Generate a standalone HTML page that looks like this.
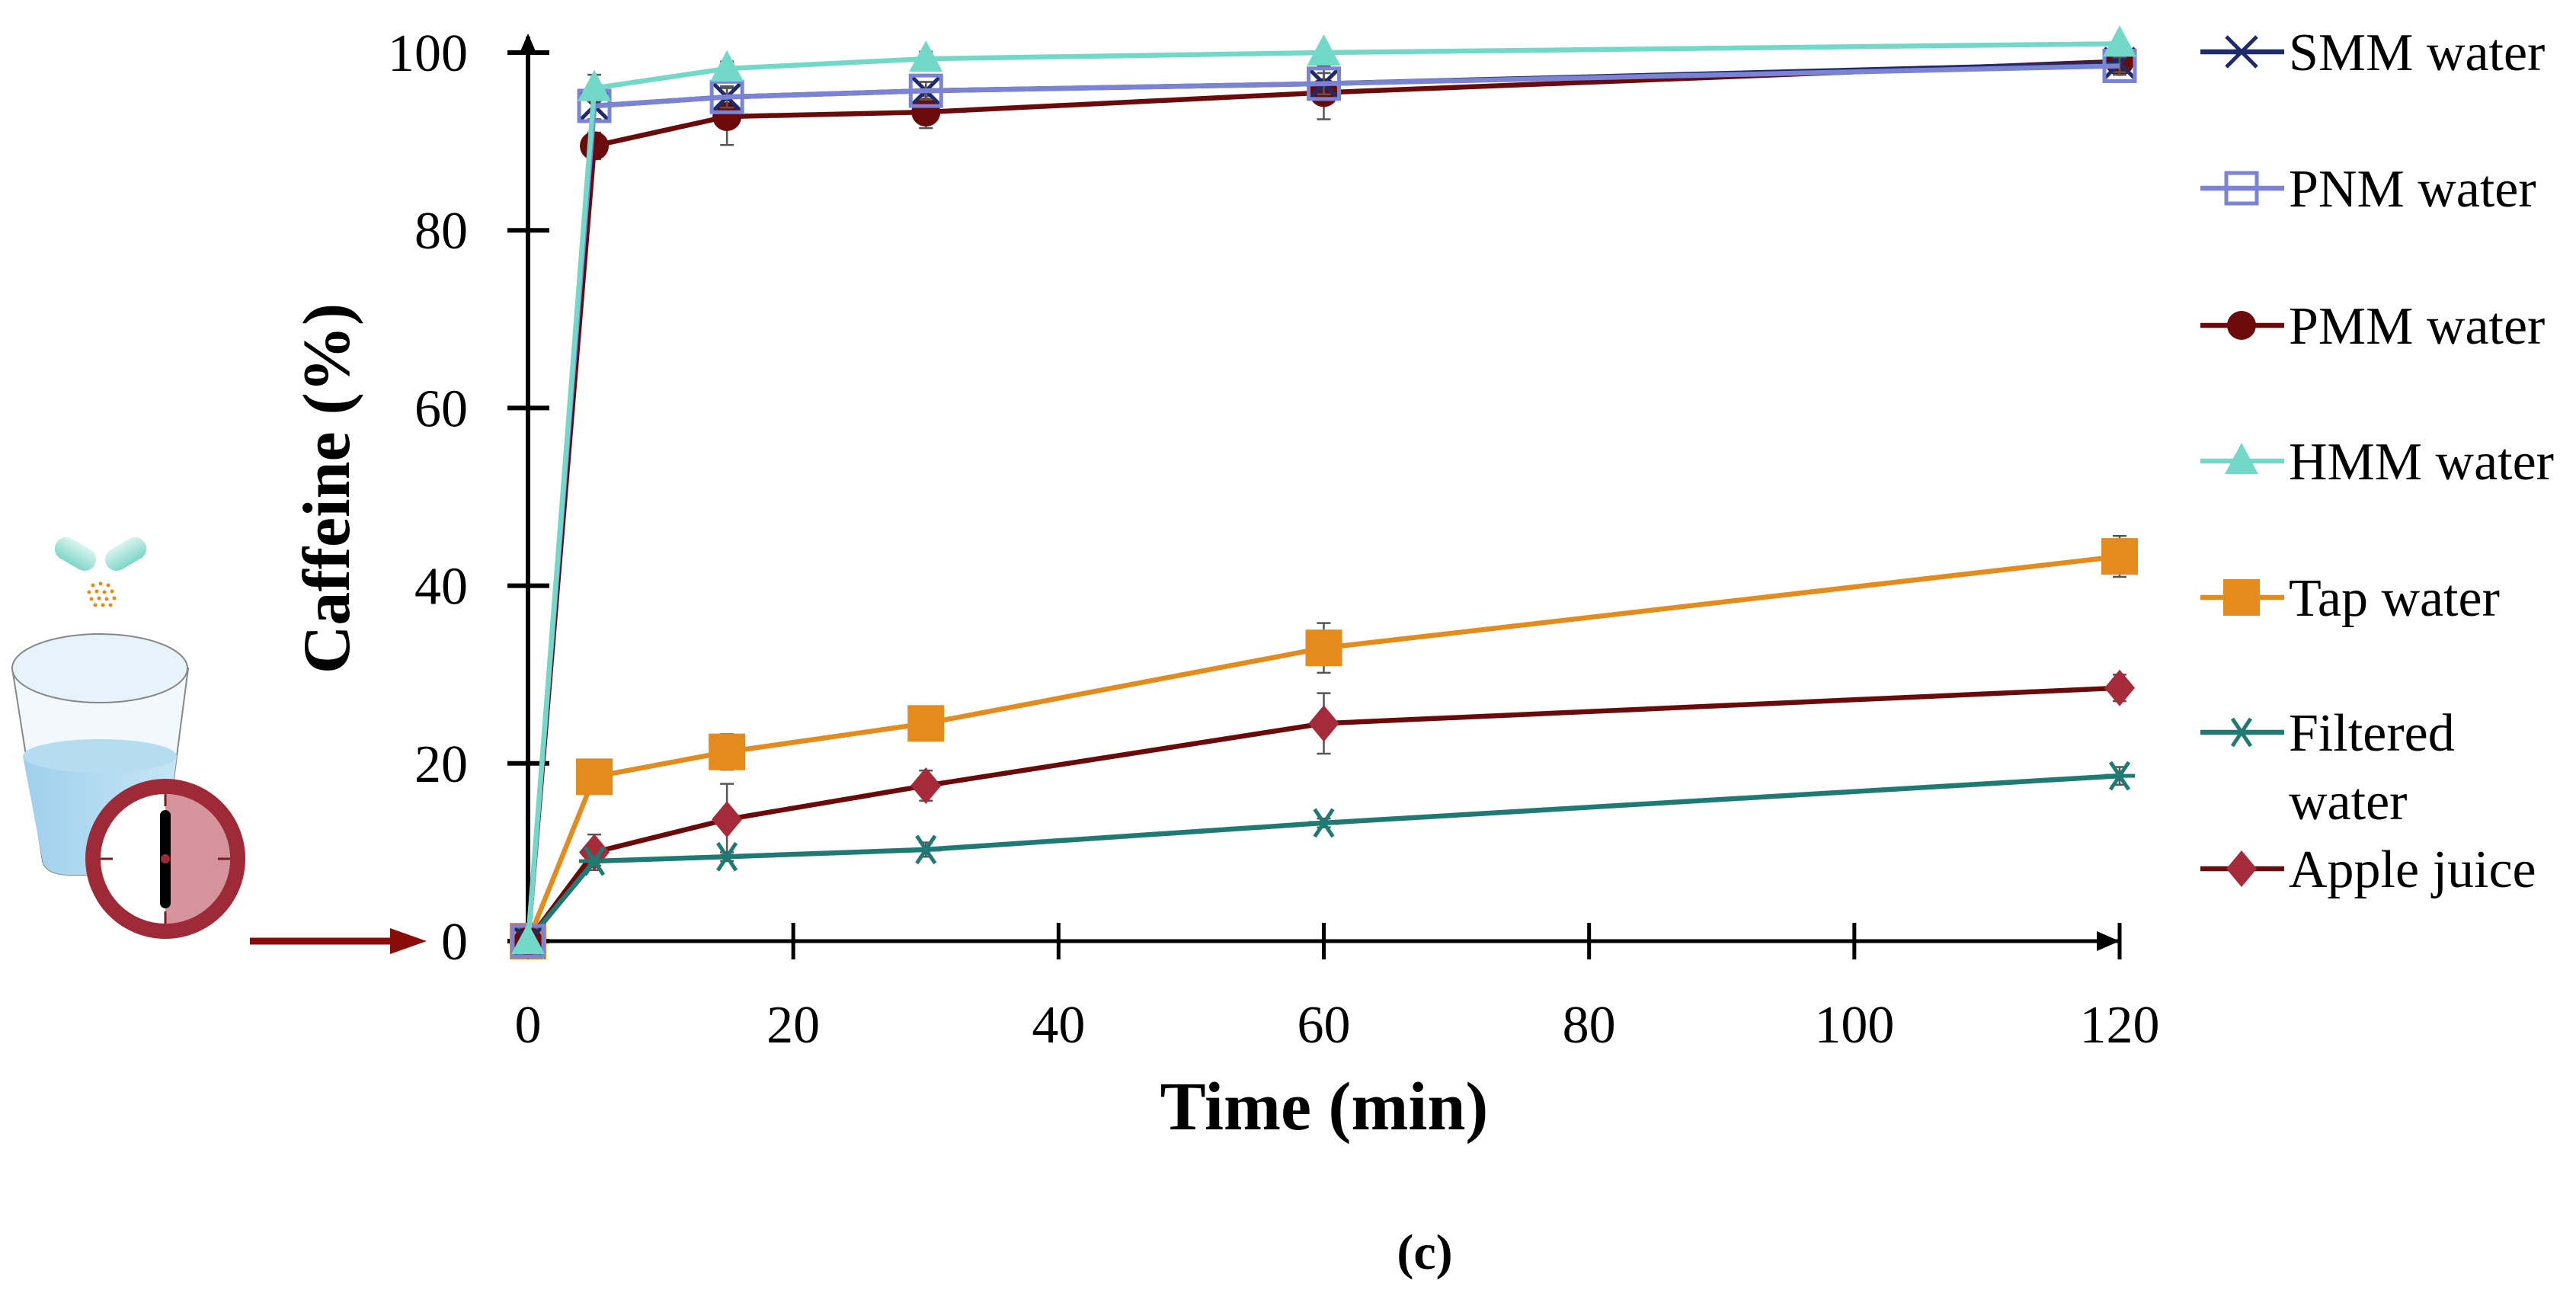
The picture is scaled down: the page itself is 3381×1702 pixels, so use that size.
<!DOCTYPE html>
<html><head><meta charset="utf-8">
<style>
html,body{margin:0;padding:0;background:#fff;}
svg{display:block;}
text{font-family:"Liberation Serif",serif;}
</style></head>
<body>
<svg width="3381" height="1702" viewBox="0 0 3381 1702" id="chart">
<defs>
<linearGradient id="water" x1="0" x2="1"><stop offset="0" stop-color="#9fd0ec"/><stop offset="1" stop-color="#c6e5f5"/></linearGradient>
<linearGradient id="cap" x1="0" x2="0" y1="0" y2="1"><stop offset="0" stop-color="#d8f5ef"/><stop offset="1" stop-color="#7fd6c8"/></linearGradient>
</defs>
<g>
  <g>
    <rect x="70" y="712" width="58" height="30" rx="15" fill="url(#cap)" transform="rotate(30 99 727)"/>
    <rect x="136" y="712" width="58" height="30" rx="15" fill="url(#cap)" transform="rotate(-30 165 727)"/>
    <g fill="#e38b1c">
      <circle cx="122" cy="768" r="2.5"/><circle cx="132" cy="766" r="2.5"/><circle cx="142" cy="768" r="2.5"/>
      <circle cx="117" cy="777" r="2.5"/><circle cx="127" cy="776" r="2.5"/><circle cx="137" cy="777" r="2.5"/><circle cx="147" cy="776" r="2.5"/>
      <circle cx="120" cy="786" r="2.5"/><circle cx="130" cy="785" r="2.5"/><circle cx="140" cy="786" r="2.5"/><circle cx="150" cy="785" r="2.5"/>
      <circle cx="125" cy="794" r="2.5"/><circle cx="135" cy="794" r="2.5"/><circle cx="145" cy="794" r="2.5"/>
    </g>
  </g>
  <g>
    <path d="M16 877 L56 1130 Q60 1147 90 1148 L180 1148 Q210 1147 214 1130 L247 877 Z" fill="#f2f9fd" stroke="#888" stroke-width="2"/>
    <path d="M30 992 L56 1130 Q60 1147 90 1148 L180 1148 Q210 1147 214 1130 L232 992 Z" fill="url(#water)"/>
    <ellipse cx="131" cy="992" rx="101" ry="22" fill="#b5dcf1"/>
    <ellipse cx="131" cy="877" rx="115" ry="45" fill="#e6f3fa" stroke="#888" stroke-width="2"/>
  </g>
  <g>
    <circle cx="217" cy="1127" r="105" fill="#9e2a38"/>
    <circle cx="217" cy="1127" r="85" fill="#fff"/>
    <path d="M217 1042 A85 85 0 0 1 217 1212 Z" fill="#d5939c"/>
    <line x1="217" y1="1042" x2="217" y2="1058" stroke="#7a1a24" stroke-width="3"/>
    <line x1="217" y1="1196" x2="217" y2="1212" stroke="#7a1a24" stroke-width="3"/>
    <line x1="132" y1="1127" x2="148" y2="1127" stroke="#7a1a24" stroke-width="3"/>
    <line x1="286" y1="1127" x2="302" y2="1127" stroke="#7a1a24" stroke-width="3"/>
    <line x1="217" y1="1070" x2="217" y2="1185" stroke="#000" stroke-width="14" stroke-linecap="round"/>
    <circle cx="217" cy="1127" r="6" fill="#9e2a38"/>
  </g>
  <g>
    <line x1="328" y1="1235" x2="520" y2="1235" stroke="#8b0a0a" stroke-width="9"/>
    <polygon points="512,1218 560,1235 512,1252" fill="#8b0a0a"/>
  </g>
</g>
<g id="plot"></g>
<text x="1870" y="1665" font-size="66" font-weight="bold" text-anchor="middle">(c)</text>
</svg>
<script>
const times = [0, 5, 15, 30, 60, 120];
const seriesNames = ["SMM water","PNM water","PMM water","HMM water","Tap water","Filtered water","Apple juice"];
const smmValues = [0, 94, 95, 95.7, 96.5, 98.8];
const pnmValues = [0, 94, 95, 95.7, 96.5, 98.5];
const pmmValues = [0, 89.5, 92.8, 93.3, 95.5, 99];
const hmmValues = [0, 96, 98.2, 99.3, 100, 101];
const tapValues = [0, 18.5, 21.3, 24.5, 33, 43.3];
const filteredValues = [0, 9, 9.5, 10.3, 13.3, 18.6];
const appleValues = [0, 10, 13.7, 17.5, 24.5, 28.5];
const smmErr = [0, 1.5, 1.2, 1, 1.2, 1];
const pnmErr = [0, 1.5, 1.2, 1, 1.2, 1];
const pmmErr = [0, 1.5, 3.2, 1.8, 3, 1];
const hmmErr = [0, 1.5, 0.8, 0.8, 0.5, 0.5];
const tapErr = [0, 0.5, 2, 1, 2.8, 2.3];
const filteredErr = [0, 0.5, 0.5, 0.8, 0.5, 1];
const appleErr = [0, 2, 4, 1.7, 3.4, 1.5];
const xTicks = [0, 20, 40, 60, 80, 100, 120];
const yTicks = [0, 20, 40, 60, 80, 100];

const NS = "http://www.w3.org/2000/svg";
const X0 = 693, X1 = 2782, Y0 = 1235, Y1 = 69;
const xs = v => X0 + (v / 120) * (X1 - X0);
const ys = v => Y0 - (v / 100) * (Y0 - Y1);
const plot = document.getElementById("plot");
function mk(tag, attrs, parent) {
  const e = document.createElementNS(NS, tag);
  for (const k in attrs) e.setAttribute(k, attrs[k]);
  (parent || plot).appendChild(e);
  return e;
}

const axes = mk("g", {});


mk("line", {x1: X0, y1: Y0, x2: X0, y2: 48, stroke: "#000", "stroke-width": 6}, axes);
mk("polygon", {points: `${X0-12},72 ${X0},44 ${X0+12},72`, fill: "#000"}, axes);
mk("line", {x1: X0, y1: Y0, x2: X1, y2: Y0, stroke: "#000", "stroke-width": 5}, axes);
mk("polygon", {points: `${X1-30},${Y0-13} ${X1},${Y0} ${X1-30},${Y0+13}`, fill: "#000"}, axes);
yTicks.forEach(t => {
  const y = ys(t);
  const tk = mk("line", {x1: 666, y1: y, x2: 721, y2: y, stroke: "#000", "stroke-width": 6}, axes);
  
  
  const lb = mk("text", {x: 614, y: y + 24, "font-size": 70, "text-anchor": "end"}, axes);
  lb.textContent = t;
  
  
});
xTicks.forEach(t => {
  const x = xs(t);
  if (t > 0) {
    const tk = mk("line", {x1: x, y1: Y0 - 24, x2: x, y2: Y0 + 24, stroke: "#000", "stroke-width": 5}, axes);
    
    
  }
  const lb = mk("text", {x: x, y: 1368, "font-size": 70, "text-anchor": "middle"}, axes);
  lb.textContent = t;
  
  
});
const xt = mk("text", {x: 1738, y: 1482, "font-size": 90, "font-weight": "bold", "text-anchor": "middle"}, axes);
xt.textContent = "Time (min)";


const yt = mk("text", {x: 0, y: 0, "font-size": 88, "font-weight": "bold", "text-anchor": "middle", transform: "translate(458,641) rotate(-90)"}, axes);
yt.textContent = "Caffeine (%)";



function marker(g, type, x, y, color) {
  const s = 20;
  if (type === "x") {
    mk("path", {d: `M${x-s} ${y-s}L${x+s} ${y+s}M${x-s} ${y+s}L${x+s} ${y-s}`, stroke: color, "stroke-width": 5, fill: "none"}, g);
  } else if (type === "sq-open") {
    mk("rect", {x: x-s, y: y-s, width: 2*s, height: 2*s, fill: "none", stroke: color, "stroke-width": 5}, g);
  } else if (type === "circle") {
    mk("circle", {cx: x, cy: y, r: 19, fill: color}, g);
  } else if (type === "tri") {
    mk("polygon", {points: `${x-22},${y+17} ${x},${y-24} ${x+22},${y+17}`, fill: color}, g);
  } else if (type === "sq") {
    mk("rect", {x: x-24, y: y-24, width: 48, height: 48, fill: color}, g);
  } else if (type === "star") {
    mk("path", {d: `M${x-s} ${y}L${x+s} ${y}M${x-12} ${y-18}L${x+12} ${y+18}M${x-12} ${y+18}L${x+12} ${y-18}`, stroke: color, "stroke-width": 5, fill: "none"}, g);
  } else if (type === "diamond") {
    mk("polygon", {points: `${x},${y-24} ${x+20},${y} ${x},${y+24} ${x-20},${y}`, fill: color}, g);
  }
}

const series = [
  {name: seriesNames[0], vals: smmValues, err: smmErr, line: "#1f2a6b", mcol: "#1f2a6b", m: "x", key: "smm"},
  {name: seriesNames[1], vals: pnmValues, err: pnmErr, line: "#7b83d4", mcol: "#7b83d4", m: "sq-open", key: "pnm"},
  {name: seriesNames[2], vals: pmmValues, err: pmmErr, line: "#6b0a0a", mcol: "#6b0a0a", m: "circle", key: "pmm"},
  {name: seriesNames[3], vals: hmmValues, err: hmmErr, line: "#72d9c8", mcol: "#72d9c8", m: "tri", key: "hmm"},
  {name: seriesNames[4], vals: tapValues, err: tapErr, line: "#e38b1c", mcol: "#e38b1c", m: "sq", key: "tap"},
  {name: seriesNames[5], vals: filteredValues, err: filteredErr, line: "#1f7a73", mcol: "#1f7a73", m: "star", key: "filtered"},
  {name: seriesNames[6], vals: appleValues, err: appleErr, line: "#6b0a0a", mcol: "#a52a3a", m: "diamond", key: "apple"}
];
const drawOrder = [4, 6, 5, 2, 0, 1, 3];
drawOrder.forEach(i => {
  const s = series[i];
  const g = mk("g", {});
  
  
  s.vals.forEach((v, j) => {
    if (s.err[j] > 0) {
      const x = xs(times[j]);
      mk("path", {d: `M${x} ${ys(v - s.err[j])}V${ys(v + s.err[j])}M${x-9} ${ys(v - s.err[j])}H${x+9}M${x-9} ${ys(v + s.err[j])}H${x+9}`, stroke: "#555", "stroke-width": 2.5, fill: "none"}, g);
    }
  });
  const pts = s.vals.map((v, j) => `${xs(times[j])},${ys(v)}`).join(" ");
  const ln = mk("polyline", {points: pts, fill: "none", stroke: s.line, "stroke-width": 6.5}, g);
  
  
  s.vals.forEach((v, j) => marker(g, s.m, xs(times[j]), ys(v), s.mcol));
});

const legendY = [68, 247, 427, 605, 784, 961, 1140];
const lg = mk("g", {});


series.forEach((s, i) => {
  const e = mk("g", {}, lg);
  
  
  const y = legendY[i];
  mk("line", {x1: 2888, y1: y, x2: 2998, y2: y, stroke: s.line, "stroke-width": 6.5}, e);
  marker(e, s.m, 2942, y, s.mcol);
  if (s.key === "filtered") {
    const t1 = mk("text", {x: 3004, y: y + 24, "font-size": 70}, e); t1.textContent = "Filtered";
    const t2 = mk("text", {x: 3004, y: 1051 + 24, "font-size": 70}, e); t2.textContent = "water";
  } else {
    const t = mk("text", {x: 3004, y: y + 24, "font-size": 70}, e); t.textContent = s.name;
  }
});
</script>
</body></html>
